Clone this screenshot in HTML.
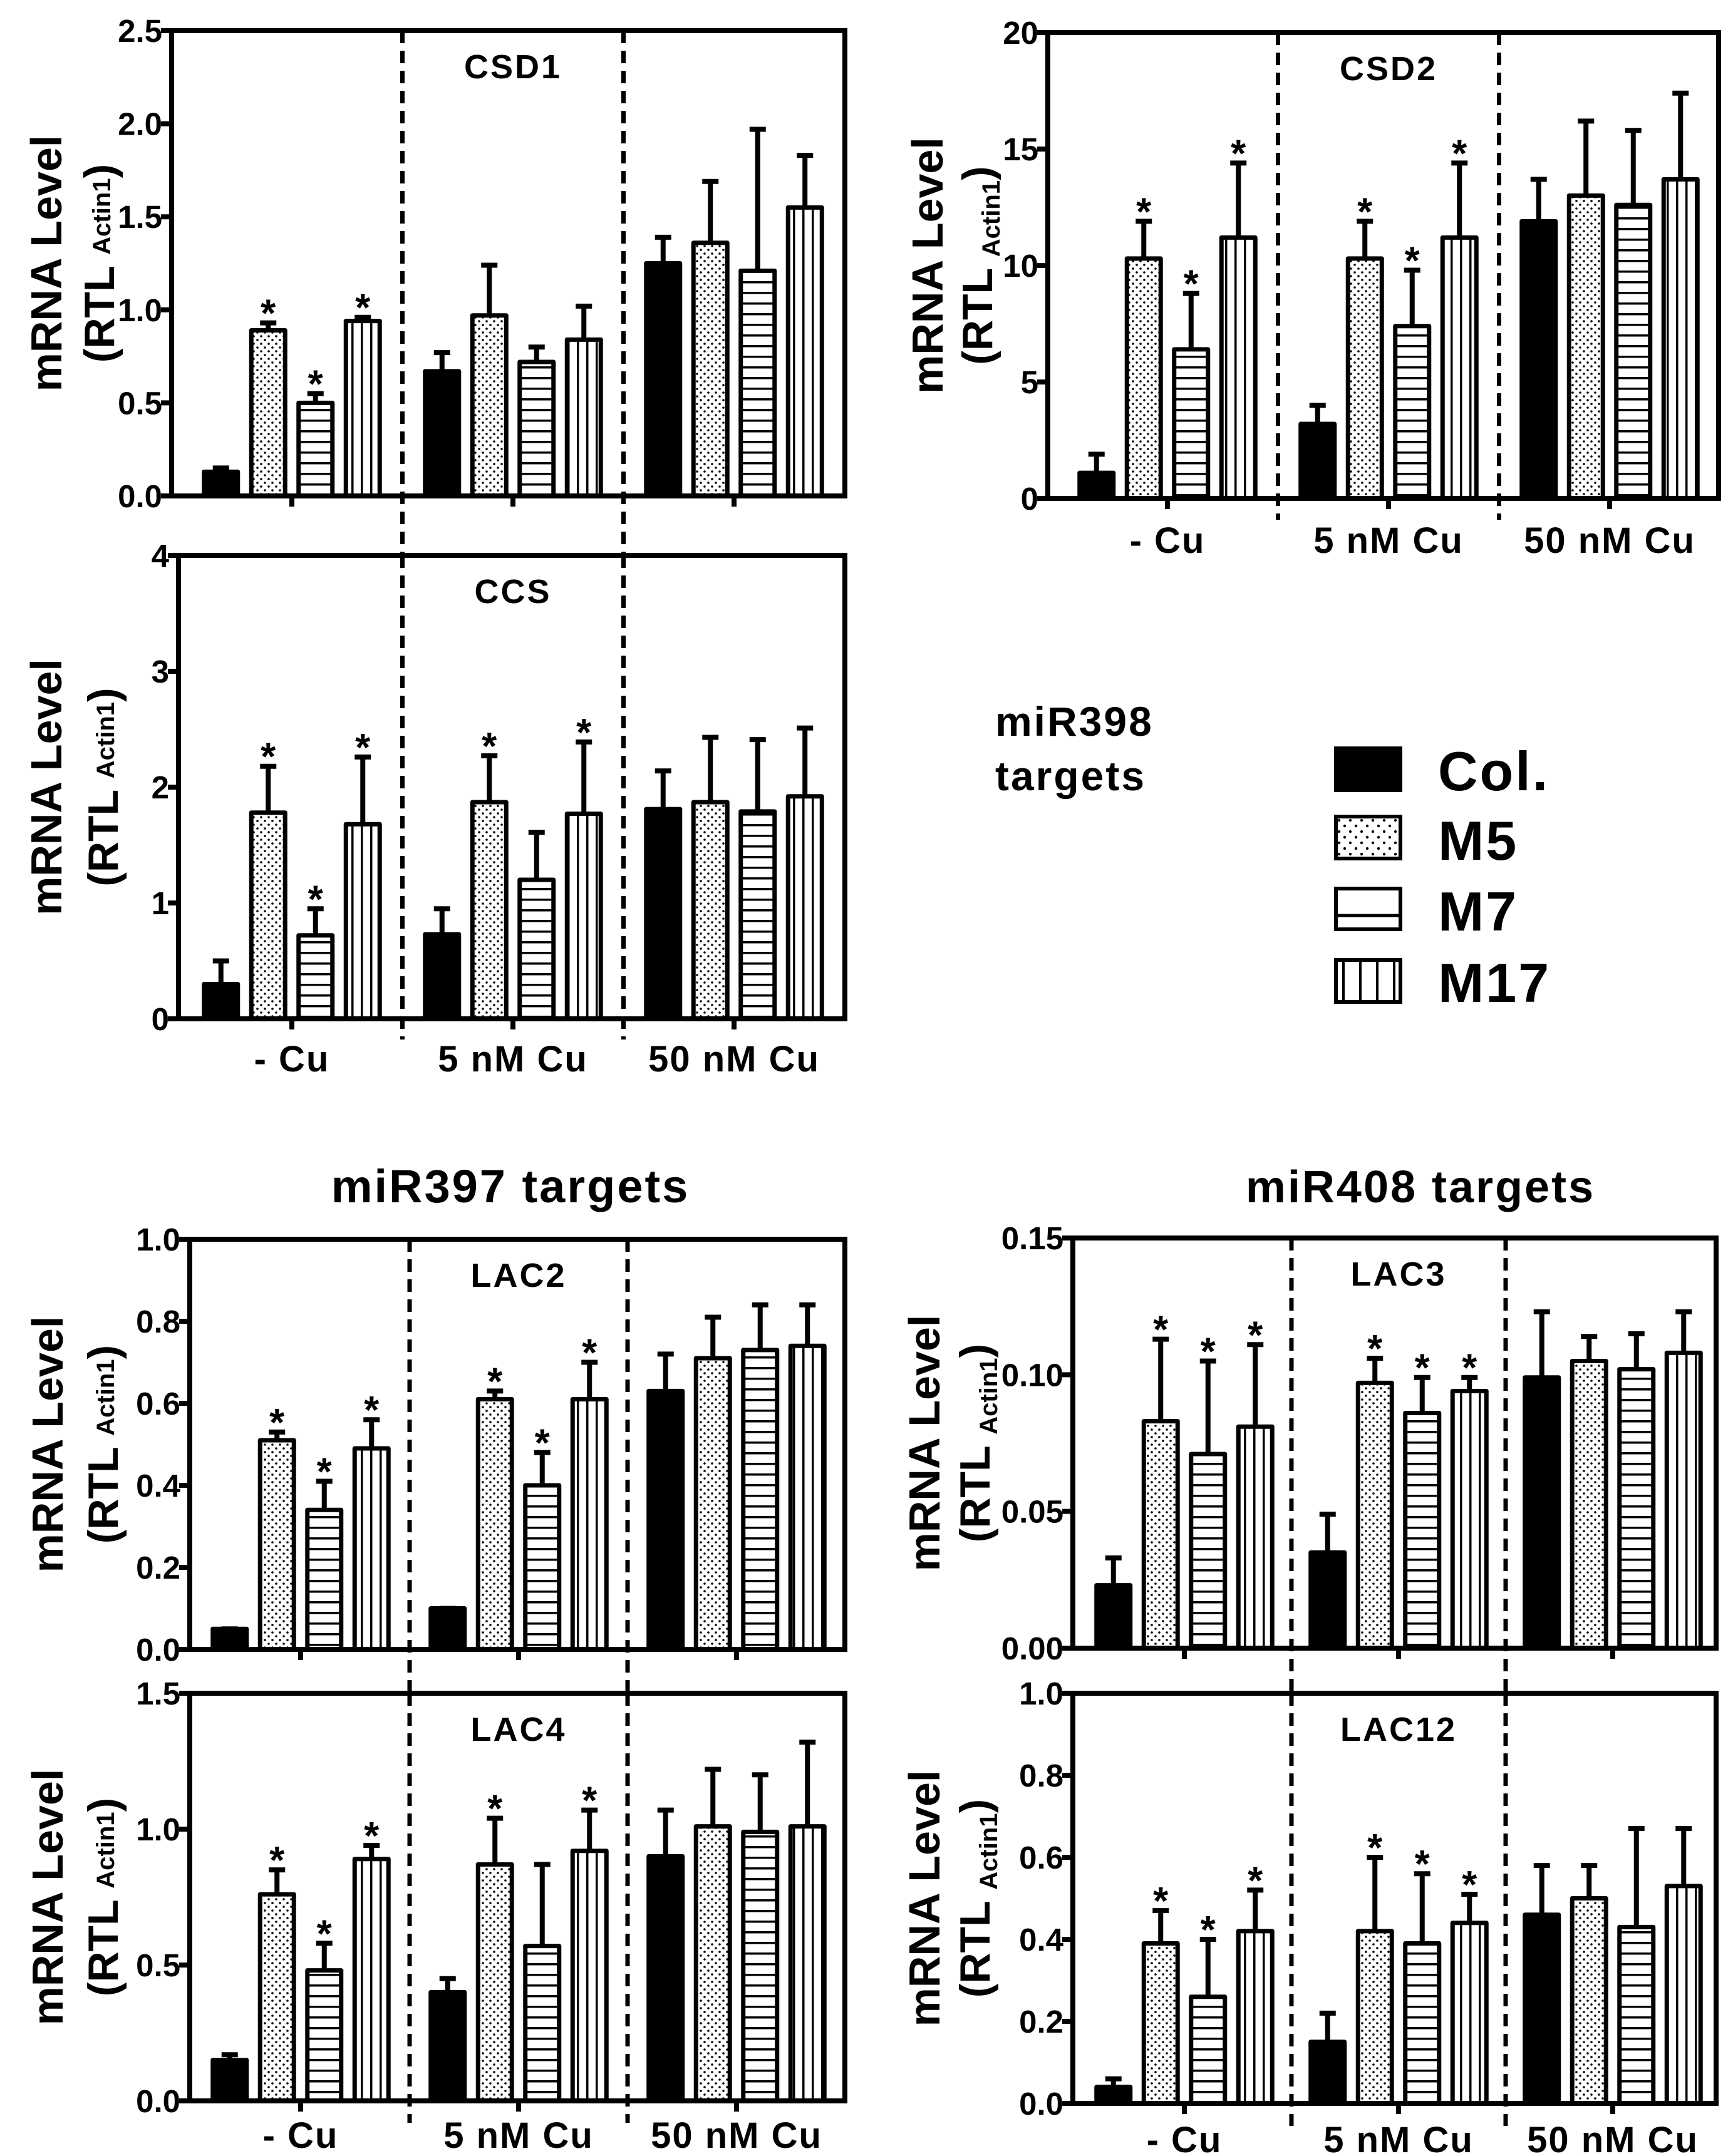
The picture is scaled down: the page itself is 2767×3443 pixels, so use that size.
<!DOCTYPE html>
<html><head><meta charset="utf-8"><style>
html,body{margin:0;padding:0;background:#fff}
svg{display:block}
text{font-family:"Liberation Sans",Arial,sans-serif;font-weight:bold;fill:#000}
</style></head>
<body>
<svg id="fig" xmlns="http://www.w3.org/2000/svg" width="2767" height="3443" viewBox="0 0 2767 3443">
<defs>
<pattern id="pDots" patternUnits="userSpaceOnUse" width="12" height="12"><circle cx="3" cy="3" r="1.8" fill="#000"/><circle cx="9" cy="9" r="1.8" fill="#000"/></pattern>
<pattern id="pH" patternUnits="userSpaceOnUse" width="20" height="17"><rect x="0" y="7" width="20" height="3.5" fill="#000"/></pattern>
<pattern id="pV" patternUnits="userSpaceOnUse" width="15" height="20"><rect x="6" y="0" width="3.5" height="20" fill="#000"/></pattern>
<pattern id="lDots" patternUnits="userSpaceOnUse" width="18" height="18"><circle cx="5" cy="5" r="2.2" fill="#000"/><circle cx="14" cy="14" r="2.2" fill="#000"/></pattern>
<pattern id="lV" patternUnits="userSpaceOnUse" width="27" height="20" x="2131"><rect x="12" y="0" width="4" height="20" fill="#000"/></pattern>
</defs>
<g id="root"></g>
<text x="815" y="1920" font-size="74" letter-spacing="3" text-anchor="middle">miR397 targets</text>
<text x="2268" y="1920" font-size="72" letter-spacing="3" text-anchor="middle">miR408 targets</text>
<text x="1589" y="1175" font-size="66" letter-spacing="3">miR398</text>
<text x="1589" y="1262" font-size="66" letter-spacing="3">targets</text>
<g>
<rect x="2133" y="1195" width="103" height="67" fill="#000" stroke="#000" stroke-width="6"/>
<text x="2296" y="1262" font-size="88" letter-spacing="3">Col.</text>
<rect x="2133" y="1304" width="103" height="67" fill="url(#lDots)" stroke="#000" stroke-width="6"/>
<text x="2296" y="1373" font-size="88" letter-spacing="3">M5</text>
<rect x="2133" y="1419" width="103" height="65" fill="#fff" stroke="#000" stroke-width="6"/>
<line x1="2133" y1="1462" x2="2236" y2="1462" stroke="#000" stroke-width="5"/>
<text x="2296" y="1486" font-size="88" letter-spacing="3">M7</text>
<rect x="2133" y="1533" width="103" height="67" fill="url(#lV)" stroke="#000" stroke-width="6"/>
<text x="2296" y="1600" font-size="88" letter-spacing="3">M17</text>
</g>
</svg>
<script>
// ---- data ----
const groups = ["- Cu", "5 nM Cu", "50 nM Cu"];
const series = ["Col.", "M5", "M7", "M17"];
const csd1Vals = [0.13,0.89,0.50,0.94, 0.67,0.97,0.72,0.84, 1.25,1.36,1.21,1.55];
const csd1Err  = [0.15,0.93,0.55,0.96, 0.77,1.24,0.80,1.02, 1.39,1.69,1.97,1.83];
const csd1Star = [0,1,1,1, 0,0,0,0, 0,0,0,0];
const csd1Ticks = ["0.0","0.5","1.0","1.5","2.0","2.5"];
const ccsVals = [0.30,1.78,0.72,1.68, 0.73,1.87,1.20,1.77, 1.81,1.87,1.79,1.92];
const ccsErr  = [0.50,2.18,0.95,2.26, 0.95,2.27,1.61,2.39, 2.14,2.43,2.41,2.51];
const ccsStar = [0,1,1,1, 0,1,0,1, 0,0,0,0];
const ccsTicks = ["0","1","2","3","4"];
const csd2Vals = [1.1,10.3,6.4,11.2, 3.2,10.3,7.4,11.2, 11.9,13.0,12.6,13.7];
const csd2Err  = [1.9,11.9,8.8,14.4, 4.0,11.9,9.8,14.4, 13.7,16.2,15.8,17.4];
const csd2Star = [0,1,1,1, 0,1,1,1, 0,0,0,0];
const csd2Ticks = ["0","5","10","15","20"];
const lac2Vals = [0.05,0.51,0.34,0.49, 0.10,0.61,0.40,0.61, 0.63,0.71,0.73,0.74];
const lac2Err  = [0.05,0.53,0.41,0.56, 0.10,0.63,0.48,0.70, 0.72,0.81,0.84,0.84];
const lac2Star = [0,1,1,1, 0,1,1,1, 0,0,0,0];
const lac2Ticks = ["0.0","0.2","0.4","0.6","0.8","1.0"];
const lac4Vals = [0.15,0.76,0.48,0.89, 0.40,0.87,0.57,0.92, 0.90,1.01,0.99,1.01];
const lac4Err  = [0.17,0.85,0.58,0.94, 0.45,1.04,0.87,1.07, 1.07,1.22,1.20,1.32];
const lac4Star = [0,1,1,1, 0,1,0,1, 0,0,0,0];
const lac4Ticks = ["0.0","0.5","1.0","1.5"];
const lac3Vals = [0.023,0.083,0.071,0.081, 0.035,0.097,0.086,0.094, 0.099,0.105,0.102,0.108];
const lac3Err  = [0.033,0.113,0.105,0.111, 0.049,0.106,0.099,0.099, 0.123,0.114,0.115,0.123];
const lac3Star = [0,1,1,1, 0,1,1,1, 0,0,0,0];
const lac3Ticks = ["0.00","0.05","0.10","0.15"];
const lac12Vals = [0.04,0.39,0.26,0.42, 0.15,0.42,0.39,0.44, 0.46,0.50,0.43,0.53];
const lac12Err  = [0.06,0.47,0.40,0.52, 0.22,0.60,0.56,0.51, 0.58,0.58,0.67,0.67];
const lac12Star = [0,1,1,1, 0,1,1,1, 0,0,0,0];
const lac12Ticks = ["0.0","0.2","0.4","0.6","0.8","1.0"];

// ---- layout ----
const panels = [
 {id:"csd1",title:"CSD1",vals:csd1Vals,err:csd1Err,star:csd1Star,ticks:csd1Ticks,L:274,R:1349,T:49,B:792,c0:466,s:353,divB:887,labels:false,sub:false,yt:[98,182]},
 {id:"ccs",title:"CCS",vals:ccsVals,err:ccsErr,star:ccsStar,ticks:ccsTicks,L:285,R:1349,T:887,B:1627,c0:466,s:353,divB:1660,labels:true,lblY:1711,sub:false,yt:[98,188]},
 {id:"csd2",title:"CSD2",vals:csd2Vals,err:csd2Err,star:csd2Star,ticks:csd2Ticks,L:1673,R:2744,T:52,B:796,c0:1864,s:353,divB:830,labels:true,lblY:883,sub:true,yt:[1505,1584]},
 {id:"lac2",title:"LAC2",vals:lac2Vals,err:lac2Err,star:lac2Star,ticks:lac2Ticks,L:303,R:1349,T:1979,B:2634,c0:480,s:348,divB:2704,labels:false,sub:false,yt:[100,188]},
 {id:"lac4",title:"LAC4",vals:lac4Vals,err:lac4Err,star:lac4Star,ticks:lac4Ticks,L:303,R:1349,T:2704,B:3355,c0:480,s:348,divB:3390,labels:true,lblY:3430,sub:false,yt:[100,188]},
 {id:"lac3",title:"LAC3",vals:lac3Vals,err:lac3Err,star:lac3Star,ticks:lac3Ticks,L:1713,R:2740,T:1977,B:2632,c0:1891,s:342,divB:2704,labels:false,sub:true,yt:[1500,1580]},
 {id:"lac12",title:"LAC12",vals:lac12Vals,err:lac12Err,star:lac12Star,ticks:lac12Ticks,L:1713,R:2740,T:2704,B:3359,c0:1891,s:342,divB:3395,labels:true,lblY:3437,sub:true,yt:[1500,1580]}
];
const fills = ["#000","url(#pDots)","url(#pH)","url(#pV)"];
const NS = "http://www.w3.org/2000/svg";
const root = document.getElementById("root");
function mk(tag, attrs, parent){
  const e = document.createElementNS(NS, tag);
  for (const k in attrs) e.setAttribute(k, attrs[k]);
  parent.appendChild(e); return e;
}
panels.forEach(p => {
  const g = mk("g", {}, root);
  
  
  const ymax = parseFloat(p.ticks[p.ticks.length-1]);
  const y = v => p.B - (v / ymax) * (p.B - p.T);
  const gx = gi => p.c0 + gi * p.s;
  const bx = i => gx(Math.floor(i/4)) + ((i%4) - 1.5) * 75.5;
  const bw = 54;
  p.vals.forEach((v, i) => {
    const cx = bx(i);
    const top = y(p.err[i]);
    const ln = mk("line", {x1:cx, x2:cx, y1:y(v), y2:top, stroke:"#000", "stroke-width":8}, g);
    
    
    const cap = mk("line", {x1:cx-13, x2:cx+13, y1:top, y2:top, stroke:"#000", "stroke-width":8}, g);
    
    
    const r = mk("rect", {x:cx-bw/2, y:y(v), width:bw, height:p.B - y(v), fill:fills[i%4], stroke:"#000", "stroke-width":7, "stroke-linejoin":"round"}, g);
    
    
    if (p.star[i]) {
      const st = mk("text", {x:cx, y:top + 6, "font-size":62, "text-anchor":"middle"}, g);
      st.textContent = "*";
      
      
    }
  });
  const fr = mk("rect", {x:p.L, y:p.T, width:p.R-p.L, height:p.B-p.T, fill:"none", stroke:"#000", "stroke-width":8}, g);
  
  
  p.ticks.forEach(t => {
    const yy = y(parseFloat(t));
    const tk = mk("line", {x1:p.L-17, x2:p.L, y1:yy, y2:yy, stroke:"#000", "stroke-width":8}, g);
    
    
    const tl = mk("text", {x:p.L-15, y:yy+18, "font-size":51, "text-anchor":"end"}, g);
    tl.textContent = t;
    
    
  });
  groups.forEach((gn, gi) => {
    const xt = mk("line", {x1:gx(gi), x2:gx(gi), y1:p.B, y2:p.B+17, stroke:"#000", "stroke-width":8}, g);
    
    
    if (p.labels) {
      const lb = mk("text", {x:gx(gi), y:p.lblY, "font-size":58, "letter-spacing":2, "text-anchor":"middle"}, g);
      lb.textContent = gn;
      
      
    }
    if (gi > 0) {
      const dx = (gx(gi) + gx(gi-1)) / 2;
      const dv = mk("line", {x1:dx, x2:dx, y1:p.T, y2:p.divB, stroke:"#000", "stroke-width":7, "stroke-dasharray":"20 12"}, g);
      
      
    }
  });
  const tt = mk("text", {x:gx(1), y:p.T+76, "font-size":54, "letter-spacing":3, "text-anchor":"middle"}, g);
  tt.textContent = p.title;
  
  
  const cy = (p.T + p.B) / 2;
  const t1 = mk("text", {x:0, y:0, "font-size":70, "text-anchor":"middle", transform:`translate(${p.yt[0]},${cy}) rotate(-90)`}, g);
  t1.textContent = "mRNA Level";
  
  
  const t2 = mk("text", {x:0, y:0, "font-size":68, "text-anchor":"middle", transform:`translate(${p.yt[1]},${cy}) rotate(-90)`}, g);
  
  
  const s1 = mk("tspan", {}, t2); s1.textContent = "(RTL ";
  const s2 = mk("tspan", {"font-size":40, dy: p.sub ? 12 : -6}, t2); s2.textContent = "Actin1";
  const s3 = mk("tspan", {dy: p.sub ? -12 : 6}, t2); s3.textContent = ")";
});
</script>
</body></html>
